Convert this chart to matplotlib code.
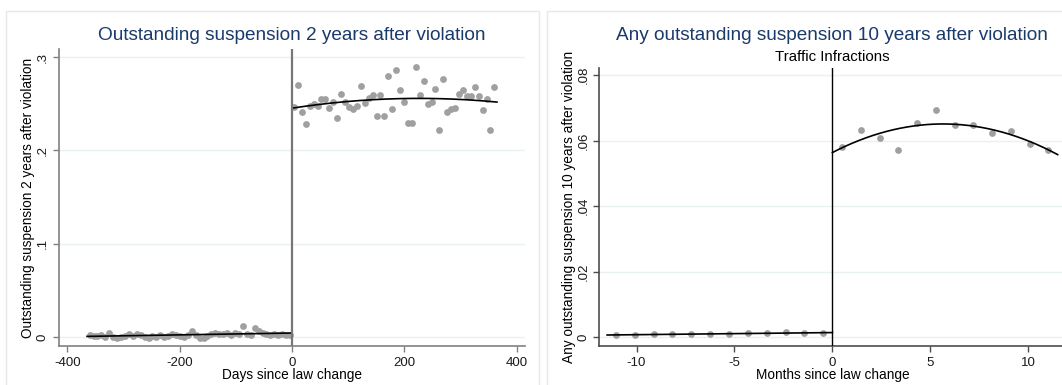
import numpy as np
import matplotlib
matplotlib.use('Agg')
from matplotlib import pyplot as plt
from matplotlib.patches import Rectangle

plt.rcParams['font.family'] = ['Liberation Sans', 'DejaVu Sans']

## Left panel: weekly bins, days since law change ################
days_pre = np.arange(-360.5, 0, 7.0)
days_post = np.arange(3.5, 365, 7.0)

# share with outstanding suspension 2 years later (before the change, x 0.001)
susp2_pre_milli = [2.5, 1.5, 1.0, 2.0, 0.5, 4.0, 0.5, -0.5, 0.0, 1.0,
                   3.0, 1.5, 3.5, 2.0, 0.5, -0.5, 1.0, 0.5, 2.0, 0.0,
                   1.5, 3.0, 2.0, 1.0, 0.0, 2.5, 7.0, 2.0, -0.5, -1.0,
                   1.0, 3.5, 4.0, 3.0, 3.5, 4.5, 2.5, 4.0, 3.5, 11.5,
                   3.0, 2.5, 9.5, 7.0, 4.5, 3.5, 2.0, 3.5, 2.5, 3.0,
                   2.0, 2.5]
susp2_pre = np.array(susp2_pre_milli) / 1000.0
susp2_post = np.array([
    0.2469, 0.2701, 0.2412, 0.2287, 0.2472, 0.2501, 0.2480, 0.2547, 0.2551, 0.2454,
    0.2515, 0.2344, 0.2601, 0.2522, 0.2469, 0.2440, 0.2476, 0.2694, 0.2512, 0.2565,
    0.2594, 0.2365, 0.2594, 0.2372, 0.2801, 0.2447, 0.2858, 0.2644, 0.2519, 0.2290,
    0.2294, 0.2894, 0.2594, 0.2747, 0.2501, 0.2519, 0.2662, 0.2222, 0.2765, 0.2408,
    0.2447, 0.2451, 0.2601, 0.2644, 0.2587, 0.2587, 0.2683, 0.2587, 0.2433, 0.2551,
    0.2215, 0.2680])

## Right panel: monthly bins, traffic infractions ################
months_pre = [-11.04, -10.07, -9.11, -8.17, -7.20, -6.25, -5.29, -4.32, -3.36, -2.39, -1.43, -0.48]
months_post = [0.48, 1.45, 2.41, 3.36, 4.32, 5.29, 6.25, 7.20, 8.16, 9.11, 10.07, 11.02]
susp10_pre = [0.0006, 0.0007, 0.0009, 0.0011, 0.0010, 0.0010, 0.0011, 0.0013, 0.0012, 0.0015, 0.0013, 0.0012]
susp10_post = [0.0581, 0.0633, 0.0609, 0.0571, 0.0655, 0.0695, 0.0649, 0.0649, 0.0625, 0.0629, 0.0589, 0.0571]

## Style settings ##########
title_col = '#1a3a6b'
dot_col = '#a0a0a0'
grid_col = '#eaf1f2'
W, H = 1062, 385

fig = plt.figure(figsize=(W / 100, H / 100), dpi=100)
fig.patch.set_facecolor('white')

# light outline round each graph region
fig.add_artist(Rectangle((6 / W, -0.02), 533 / W, 1.02 - 11 / H, transform=fig.transFigure,
                         fill=False, ec='#e8e8e8', lw=1))
fig.add_artist(Rectangle((547 / W, -0.02), 0.6, 1.02 - 11 / H, transform=fig.transFigure,
                         fill=False, ec='#e8e8e8', lw=1))


def fit_line(ax, x, y, deg, lo, hi):
    coef = np.polyfit(x, y, deg)
    xs = np.linspace(lo, hi, 200)
    ax.plot(xs, np.polyval(coef, xs), color='black', lw=1.2, zorder=4)


def style_axes(ax, spine_col):
    for s in ['top', 'right']:
        ax.spines[s].set_visible(False)
    for s in ['left', 'bottom']:
        ax.spines[s].set_color(spine_col)
        ax.spines[s].set_linewidth(1.2)
    ax.tick_params(axis='both', length=4.5, width=1, color=spine_col,
                   labelsize=9.5, labelcolor='#1a1a1a')
    ax.tick_params(axis='y', pad=2.5)
    ax.tick_params(axis='x', pad=3.5)
    ax.grid(axis='y', color=grid_col, lw=1)
    ax.set_axisbelow(True)


############ Left panel ###############
ax1 = fig.add_axes([58.6 / W, 39 / H, 466.8 / W, 297 / H])
ax1.scatter(days_pre, susp2_pre, s=24, color=dot_col, lw=0, zorder=3)
ax1.scatter(days_post, susp2_post, s=24, color=dot_col, lw=0, zorder=3)
fit_line(ax1, days_pre, susp2_pre, 1, -365, 0)
fit_line(ax1, days_post, susp2_post, 2, 0, 365)
ax1.axvline(0, color='#777777', lw=1.6, zorder=5)
ax1.set_xlim(-415.7, 415.7)
ax1.set_ylim(-0.0096, 0.3086)
ax1.set_xticks([-400, -200, 0, 200, 400])
ax1.set_xticklabels(['-400', '-200', '0', '200', '400'])
ax1.set_yticks([0, 0.1, 0.2, 0.3])
ax1.set_yticklabels(['0', '.1', '.2', '.3'], rotation=90, va='center')
style_axes(ax1, '#808080')
ax1.set_xlabel('Days since law change', fontsize=9.8)
ax1.set_ylabel('Outstanding suspension 2 years after violation', fontsize=9.8)
ax1.xaxis.set_label_coords(0.5, -0.075)
ax1.yaxis.set_label_coords(-0.051, 0.5)
fig.text(291.8 / W, 1 - 36 / H, 'Outstanding suspension 2 years after violation',
         ha='center', va='center', fontsize=13.7, color=title_col)

############ Right panel ###############
ax2 = fig.add_axes([599.3 / W, 39.3 / H, 466.2 / W, 278 / H])
ax2.scatter(months_pre, susp10_pre, s=24, color=dot_col, lw=0, zorder=3)
ax2.scatter(months_post, susp10_post, s=24, color=dot_col, lw=0, zorder=3)
fit_line(ax2, months_pre, susp10_pre, 1, -11.5, 0)
fit_line(ax2, months_post, susp10_post, 2, 0, 11.5)
ax2.axvline(0, color='black', lw=1.0, zorder=5)
ax2.set_xlim(-11.9, 11.9)
ax2.set_ylim(-0.00256, 0.0823)
ax2.set_xticks([-10, -5, 0, 5, 10])
ax2.set_xticklabels(['-10', '-5', '0', '5', '10'])
ax2.set_yticks([0, 0.02, 0.04, 0.06, 0.08])
ax2.set_yticklabels(['0', '.02', '.04', '.06', '.08'], rotation=90, va='center')
style_axes(ax2, '#4d4d4d')
ax2.set_xlabel('Months since law change', fontsize=9.8)
ax2.set_ylabel('Any outstanding suspension 10 years after violation', fontsize=9.8)
ax2.xaxis.set_label_coords(0.5, -0.081)
ax2.yaxis.set_label_coords(-0.051, 0.5)
fig.text(832.4 / W, 1 - 35 / H, 'Any outstanding suspension 10 years after violation',
         ha='center', va='center', fontsize=13.7, color=title_col)
fig.text(832.4 / W, 1 - 57 / H, 'Traffic Infractions',
         ha='center', va='center', fontsize=10.8, color='black')

plt.savefig('out.png', dpi=100)
plt.close()
